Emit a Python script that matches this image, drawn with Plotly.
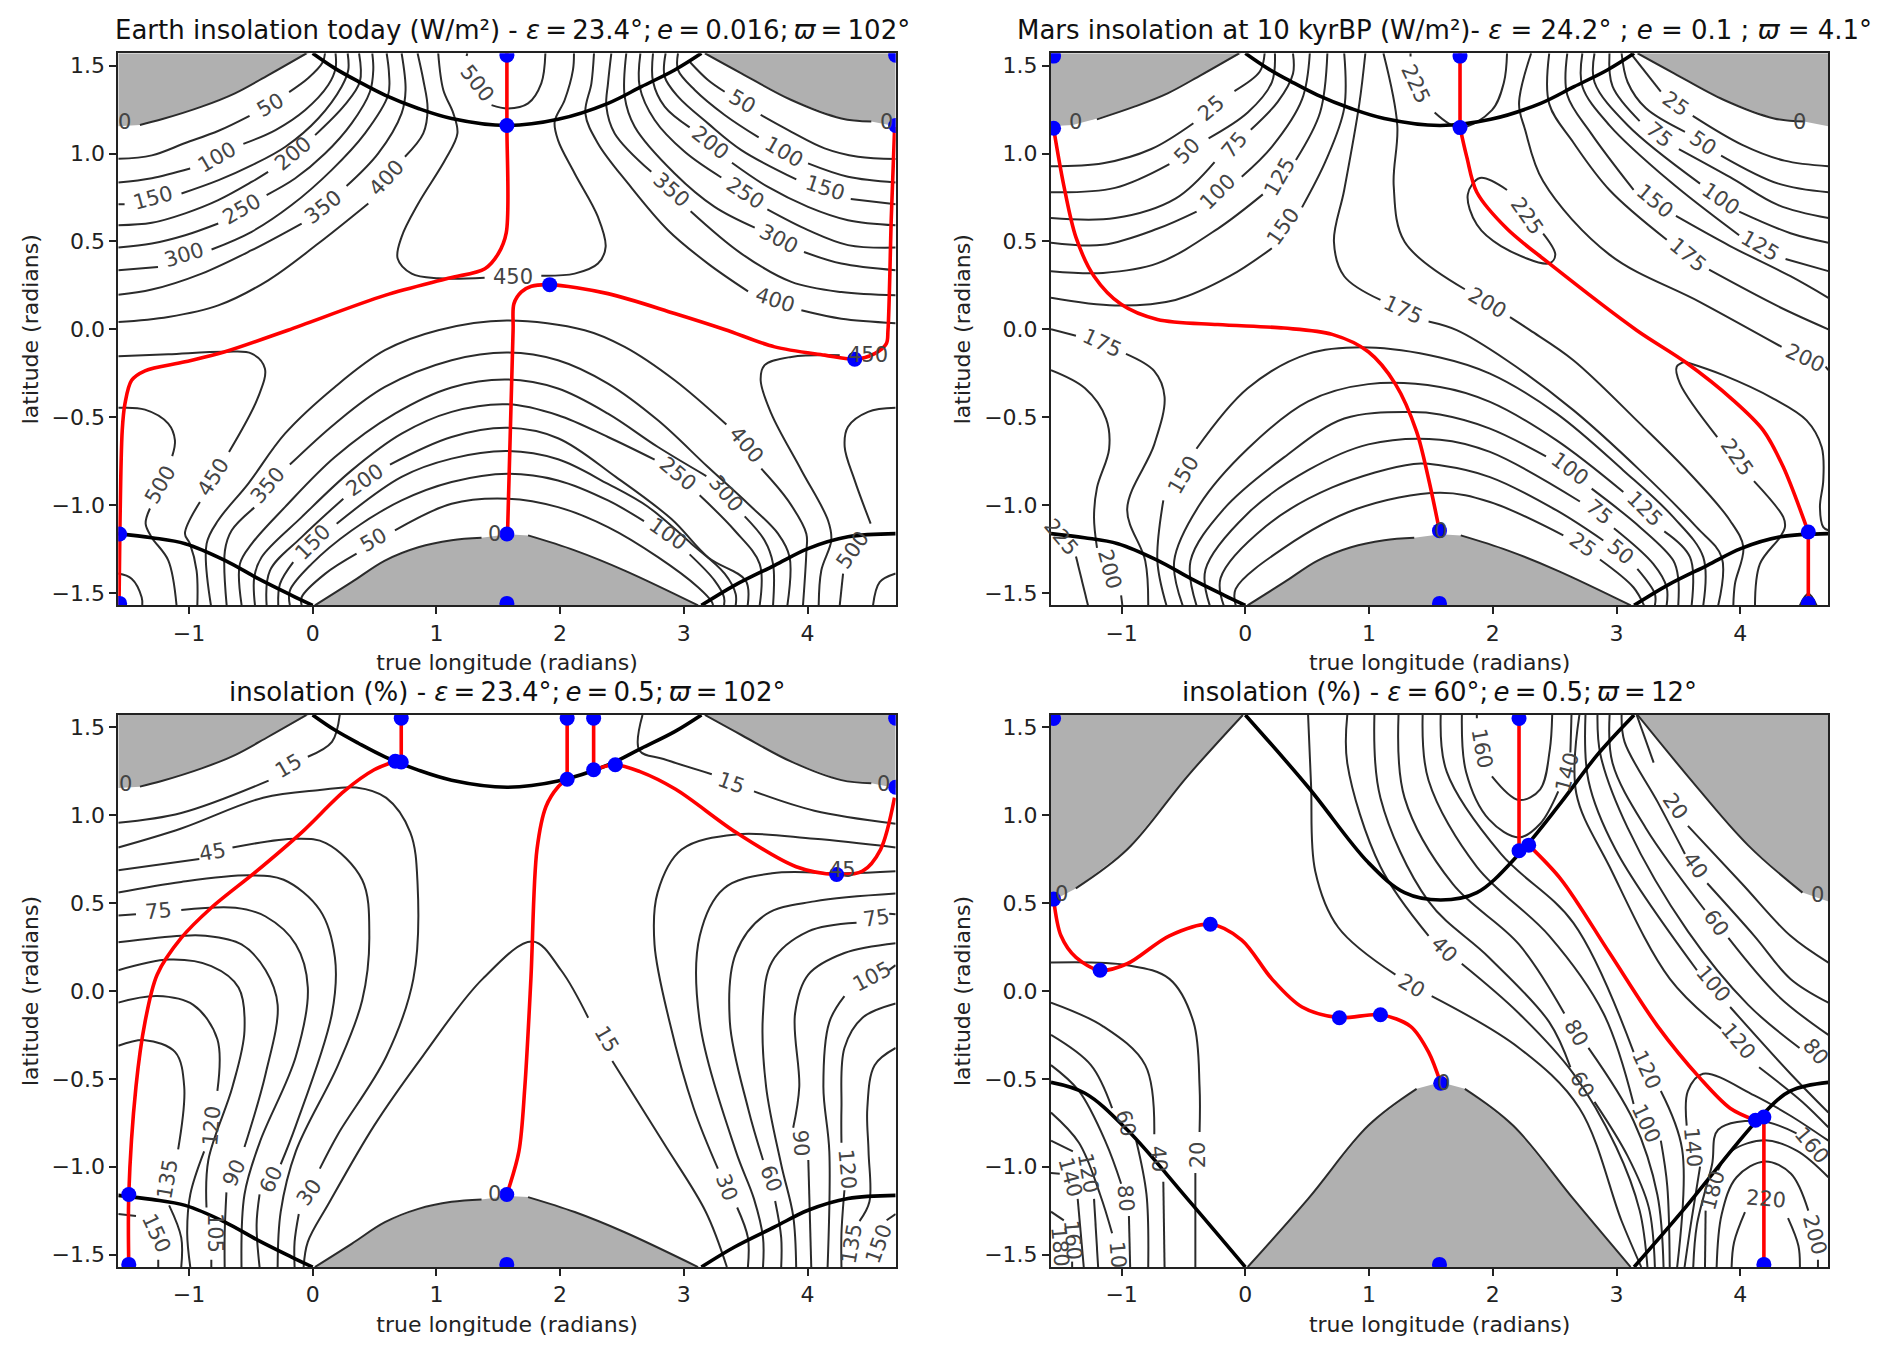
import plotly.graph_objects as go
from plotly.subplots import make_subplots

W, H = 1892, 1355
LEFT = (118.3, 1051.0)
WIDTH = 777.4
TOP = (53.3, 715.0)
HEIGHT = 552.0
XMIN, XMAX = -1.5708, 4.7124
YMIN, YMAX = -1.5708, 1.5708

x_ticks = [-1, 0, 1, 2, 3, 4]
y_ticks = [-1.5, -1.0, -0.5, 0.0, 0.5, 1.0, 1.5]

# terminator and polar night, obliquity about 23 deg (panels 1-3)
term_n = [(0, 1.571), (.18, 1.485), (.37, 1.41), (.584, 1.333), (.854, 1.257), (1.123, 1.2), (1.571, 1.16), (1.983, 1.195), (2.387, 1.286), (2.657, 1.381), (2.926, 1.476), (3.142, 1.571)]
term_sw = [(-1.571, -1.163), (-1.3, -1.186), (-1.03, -1.22), (-.709, -1.315), (-.44, -1.419), (-.17, -1.514), (0, -1.571)]
term_se = [(3.142, -1.571), (3.41, -1.457), (3.734, -1.343), (4.004, -1.248), (4.327, -1.181), (4.712, -1.163)]
gray_nw = [(-1.571, 1.155), (-1.396, 1.163), (-1.22, 1.195), (-.897, 1.267), (-.628, 1.343), (-.358, 1.447), (-.03, 1.571), (-1.571, 1.571)]
gray_ne = [(3.17, 1.571), (3.465, 1.457), (3.869, 1.305), (4.273, 1.2), (4.515, 1.182), (4.712, 1.155), (4.712, 1.571)]
gray_s = [(.018, -1.571), (.315, -1.439), (.584, -1.316), (.854, -1.24), (1.123, -1.2), (1.365, -1.186), (1.579, -1.167), (1.741, -1.173), (2.118, -1.258), (2.522, -1.373), (3.115, -1.571)]
zero_nw = [(-1.396, 1.163), (-1.22, 1.195), (-.897, 1.267), (-.628, 1.343), (-.358, 1.447), (-.05, 1.571)]
zero_ne = [(3.17, 1.571), (3.465, 1.457), (3.869, 1.305), (4.273, 1.2), (4.515, 1.182)]
zero_s = [(.018, -1.571), (.315, -1.439), (.584, -1.316), (.854, -1.24), (1.123, -1.2), (1.365, -1.186), None, (1.741, -1.173), (2.118, -1.258), (2.522, -1.373), (3.115, -1.571)]

# panel 1, Earth today
earth_n50 = [(-1.571, .97), (-1.3, .99), (-1.03, 1.06), (-.76, 1.13), (-.51, 1.215), None, (-.19, 1.35), (-.035, 1.43), (.08, 1.518), (.1, 1.571)]
earth_n100 = [(-1.571, .836), (-1.3, .86), (-.99, .915), None, (-.56, 1.055), (-.3, 1.134), (-.06, 1.248), (.126, 1.39), (.185, 1.485), (.185, 1.571)]
earth_n150 = [(-1.571, .712), (-1.52, .712), None, (-1.06, .773), (-.76, .849), (-.49, .934), (-.22, 1.039), (.045, 1.2), (.234, 1.381), (.288, 1.476), (.283, 1.571)]
earth_n200 = [(-1.571, .592), (-1.3, .606), (-1.03, .66), (-.763, .735), (-.49, .84), (-.36, .896), None, (.02, 1.105), (.26, 1.277), (.382, 1.41), (.375, 1.571)]
earth_n250 = [(-1.571, .465), (-1.3, .488), (-1.03, .535), (-.763, .602), None, (-.372, .764), (-.143, .858), (.1, 1.0), (.315, 1.172), (.463, 1.352), (.49, 1.476), (.482, 1.571)]
earth_n300 = [(-1.571, .336), (-1.25, .355), None, (-.817, .454), (-.493, .555), (-.17, .707), (.153, .906), (.423, 1.115), (.61, 1.333), (.617, 1.457), (.598, 1.571)]
earth_n350 = [(-1.571, .197), (-1.3, .226), (-.897, .317), (-.493, .45), (-.089, .602), None, (.274, .815), (.53, 1.001), (.719, 1.229), (.751, 1.362), (.719, 1.571)]
earth_n400 = [(-1.571, .041), (-1.167, .07), (-.763, .136), (-.359, .279), (.045, .488), (.45, .716), None, (.746, .982), (.894, 1.115), (.929, 1.258), (.894, 1.42), (.848, 1.571)]
earth_n450a = [(1.39, .293), (1.015, .29), (.8, .317), (.687, .403), (.719, .526), (.854, .716), (1.07, .963), (1.17, 1.115), (1.137, 1.229), (1.056, 1.362), (1.015, 1.571)]
earth_n450b = [(1.848, .305), (2.118, .317), (2.306, .374), (2.368, .469), (2.306, .64), (2.118, .887), (1.983, 1.077), (1.956, 1.182), (2.037, 1.305), (2.104, 1.476), (2.112, 1.571)]
earth_n500 = [(1.446, 1.276), (1.579, 1.257), (1.741, 1.286), (1.848, 1.4), (1.881, 1.571), None, (1.244, 1.555), (1.25, 1.571)]
earth_e400 = [(2.274, 1.571), (2.253, 1.4), (2.204, 1.229), (2.306, 1.058), (2.549, .83), (2.872, .564), (3.195, .374), (3.519, .216), None, (3.95, .108), (4.273, .06), (4.712, .035)]
earth_e350 = [(2.414, 1.571), (2.387, 1.4), (2.374, 1.267), (2.441, 1.115), (2.737, .896), None, (3.055, .672), (3.465, .431), (3.869, .27), (4.273, .212), (4.712, .194)]
earth_e300 = [(2.535, 1.571), (2.522, 1.324), (2.603, 1.153), (2.926, .887), (3.249, .697), (3.573, .579), None, (3.971, .44), (4.273, .374), (4.712, .336)]
earth_e250 = [(2.649, 1.571), (2.643, 1.381), (2.764, 1.191), (3.007, 1.01), (3.303, .864), None, (3.675, .682), (4.004, .564), (4.327, .479), (4.712, .465)]
earth_e200 = [(2.751, 1.571), (2.751, 1.41), (2.845, 1.267), (3.047, 1.149), None, (3.389, .948), (3.68, .81), (4.004, .697), (4.327, .621), (4.712, .592)]
earth_e150 = [(2.853, 1.571), (2.845, 1.438), (2.953, 1.324), (3.195, 1.172), (3.465, 1.02), (3.909, .853), None, (4.349, .741), (4.712, .712)]
earth_e100 = [(2.953, 1.571), (2.953, 1.476), (3.088, 1.362), (3.33, 1.22), (3.605, 1.092), None, (4.004, .944), (4.327, .868), (4.712, .836)]
earth_e50 = [(3.047, 1.523), (3.195, 1.419), (3.33, 1.352), None, (3.621, 1.22), (3.869, 1.124), (4.138, 1.03), (4.408, .982), (4.712, .969)]
earth_s50 = [(-.089, -1.571), (-.089, -1.525), (.1, -1.392), (.355, -1.277), None, (.665, -1.145), (1.123, -.993), (1.579, -.964), (1.983, -1.012), (2.387, -1.126), (2.791, -1.297), (3.115, -1.468), (3.228, -1.553), (3.236, -1.571)]
earth_s100 = [(-.184, -1.571), (-.184, -1.487), (-.008, -1.335), (.315, -1.145), (.719, -.974), (1.123, -.869), (1.579, -.822), (1.983, -.86), (2.387, -.974), (2.678, -1.092), None, (3.047, -1.281), (3.249, -1.43), (3.325, -1.525), (3.325, -1.571)]
earth_s150 = [(-.278, -1.571), (-.264, -1.449), (-.157, -1.325), None, (.194, -1.107), (.719, -.84), (1.123, -.736), (1.579, -.693), (1.983, -.74), (2.387, -.88), (2.71, -1.01), (3.061, -1.22), (3.33, -1.39), (3.419, -1.506), (3.419, -1.571)]
earth_s200 = [(-.372, -1.571), (-.345, -1.373), (-.089, -1.183), (.248, -.964), None, (.625, -.77), (1.123, -.613), (1.579, -.561), (1.983, -.62), (2.45, -.84), (2.9, -1.08), (3.2, -1.3), (3.5, -1.43), (3.516, -1.571)]
earth_s250 = [(-.466, -1.571), (-.472, -1.411), (-.413, -1.297), (-.089, -1.069), (.315, -.803), (.719, -.594), (1.123, -.47), (1.579, -.427), (1.983, -.489), (2.387, -.613), (2.764, -.742), None, (3.128, -.945), (3.411, -1.145), (3.613, -1.335), (3.613, -1.571)]
earth_s300 = [(-.574, -1.571), (-.588, -1.335), (-.493, -1.221), (-.224, -1.012), (.18, -.727), (.665, -.48), (1.123, -.331), (1.579, -.286), (1.983, -.337), (2.387, -.48), (2.791, -.67), (3.182, -.835), None, (3.492, -1.065), (3.653, -1.202), (3.721, -1.335), (3.721, -1.571)]
earth_s350 = [(-.695, -1.571), (-.709, -1.259), (-.655, -1.145), (-.472, -1.015), None, (-.184, -.77), (.18, -.537), (.584, -.328), (1.123, -.176), (1.579, -.132), (1.983, -.176), (2.387, -.309), (2.791, -.518), (3.195, -.784), (3.519, -.993), (3.761, -1.163), (3.855, -1.297), (3.837, -1.571)]
earth_s400 = [(-.822, -1.571), (-.857, -1.22), (-.763, -1.087), (-.52, -.878), (-.224, -.594), (.18, -.328), (.584, -.119), (1.015, -.005), (1.57, .05), (2.199, -.005), (2.522, -.1), (2.926, -.29), (3.344, -.542), None, (3.626, -.793), (3.842, -.974), (3.99, -1.163), (3.99, -1.27), (3.963, -1.571)]
earth_sw450 = [(-1.571, -.153), (-1.167, -.142), (-.709, -.128), (-.493, -.138), (-.386, -.223), (-.44, -.385), (-.676, -.698), None, (-.911, -.983), (-1.032, -1.163), (-.992, -1.22), (-.938, -1.373), (-.932, -1.571)]
earth_sw500 = [(-1.571, -.447), (-1.355, -.457), (-1.167, -.537), (-1.113, -.632), (-1.135, -.722), None, (-1.315, -1.02), (-1.35, -1.106), (-1.302, -1.183), (-1.167, -1.315), (-1.1, -1.571)]
earth_sw550 = [(-1.571, -1.39), (-1.463, -1.419), (-1.382, -1.525), (-1.377, -1.571)]
earth_se450 = [(4.26, -.147), (3.869, -.157), (3.653, -.204), (3.621, -.29), (3.707, -.48), (3.95, -.802), (4.165, -1.087), (4.192, -1.2), (4.111, -1.373), (4.09, -1.571)]
earth_se500 = [(4.712, -.447), (4.489, -.47), (4.327, -.555), (4.3, -.669), (4.381, -.86), (4.51, -1.106), None, (4.287, -1.39), (4.26, -1.571)]
earth_se550 = [(4.712, -1.39), (4.583, -1.439), (4.529, -1.571)]
earth_lines = [earth_n50, earth_n100, earth_n150, earth_n200, earth_n250, earth_n300, earth_n350, earth_n400, earth_n450a, earth_n450b, earth_n500,
               earth_e400, earth_e350, earth_e300, earth_e250, earth_e200, earth_e150, earth_e100, earth_e50,
               earth_s50, earth_s100, earth_s150, earth_s200, earth_s250, earth_s300, earth_s350, earth_s400,
               earth_sw450, earth_sw500, earth_sw550, earth_se450, earth_se500, earth_se550, zero_nw, zero_ne, zero_s]
earth_labels = [("50", -.34, 1.277, -30), ("100", -.77, .98, -30), ("150", -1.29, .745, -15), ("200", -.162, 1.0, -40), ("250", -.569, .682, -30),
                ("300", -1.04, .425, -17), ("350", .086, .697, -38), ("400", .598, .859, -47), ("450", 1.62, .3, 0), ("500", 1.325, 1.4, 52), ("0", -1.52, 1.18, 0),
                ("50", 3.478, 1.295, 30), ("100", 3.81, 1.01, 30), ("150", 4.138, .802, 18), ("200", 3.214, 1.058, 38), ("250", 3.492, .773, 33),
                ("300", 3.767, .516, 27), ("350", 2.899, .79, 42), ("400", 3.734, .165, 18), ("0", 4.637, 1.18, 0),
                ("50", .49, -1.197, -30), ("150", .005, -1.212, -45), ("200", .423, -.86, -35), ("350", -.359, -.888, -50), ("450", -.803, -.84, -58),
                ("500", -1.234, -.884, -60), ("0", 1.473, -1.163, 0), ("100", 2.872, -1.164, 35), ("250", 2.953, -.822, 40), ("300", 3.344, -.936, 50),
                ("400", 3.505, -.66, 50), ("450", 4.488, -.147, 0), ("500", 4.367, -1.258, -55)]
earth_red = [
    [(1.57, 1.571), (1.57, 1.16), (1.565, .55), (1.5, .43), (1.392, .345), (1.096, .29), (.584, .193), (-.2, -.005), (-.709, -.128), (-1.032, -.185), (-1.355, -.236), (-1.463, -.29), (-1.517, -.423), (-1.539, -.575), (-1.558, -1.144), (-1.565, -1.571)],
    [(1.575, -1.163), (1.62, -.005), (1.627, .146), (1.687, .213), (1.768, .245), (1.916, .254), (2.387, .203), (2.926, .09), (3.33, -.001), (3.734, -.1), (4.138, -.147), (4.381, -.17), (4.542, -.138), (4.637, -.081), (4.65, -.005), (4.677, .64), (4.704, 1.153)],
]
earth_dots = [(1.57, 1.56), (1.57, 1.16), (1.916, .254), (4.381, -.17), (4.712, 1.16), (4.712, 1.56), (-1.56, -1.165), (-1.56, -1.56), (1.57, -1.165), (1.57, -1.56)]

# panel 2, Mars at 10 kyrBP
mars_n25 = [(-1.571, .928), (-1.15, .945), (-.76, 1.026), (-.42, 1.173), None, (-.088, 1.356), (.117, 1.467), (.156, 1.571)]
mars_n50 = [(-1.571, .78), (-1.053, .805), (-.614, .94), None, (-.297, 1.087), (.019, 1.234), (.214, 1.406), (.239, 1.571)]
mars_n75 = [(-1.571, .633), (-1.053, .633), (-.565, .744), (-.249, .952), None, (.044, 1.136), (.263, 1.296), (.385, 1.455), (.385, 1.571)]
mars_n100 = [(-1.571, .493), (-1.15, .481), (-.712, .572), (-.394, .67), None, (-.029, .868), (.214, 1.038), (.458, 1.308), (.521, 1.571)]
mars_n125 = [(-1.571, .331), (-1.15, .321), (-.712, .375), (-.224, .572), (.141, .768), None, (.409, .964), (.604, 1.234), (.663, 1.571)]
mars_n150 = [(-1.571, .179), (-1.053, .135), (-.565, .167), (-.127, .302), (.214, .461), None, (.458, .694), (.653, .964), (.799, 1.259), (.799, 1.571)]
mars_m175 = [(.97, 1.571), (.921, 1.283), (.799, .793), (.716, .498), (.799, .302), (1.092, .167), None, (1.481, .044), (1.708, -.005), (2.112, -.176), (2.651, -.46), (3.19, -.803), (3.647, -1.126), (3.85, -1.297), (3.822, -1.571)]
mars_m200 = [(1.116, 1.571), (1.228, 1.161), (1.199, .817), (1.287, .498), (1.774, .228), None, (2.139, .069), (2.3, -.005), (2.651, -.176), (3.19, -.537), (3.594, -.822), (3.917, -1.088), (4.025, -1.24), (3.957, -1.449), (3.944, -1.571)]
mars_top225 = [(1.335, 1.553), (1.335, 1.571), None, (1.53, 1.234), (1.735, 1.148), (1.993, 1.247), (2.09, 1.406), (2.115, 1.571)]
mars_loop225 = [(2.407, .545), (2.505, .424), (2.456, .375), (2.066, .474), (1.871, .596), (1.798, .768), (1.896, .861), (2.115, .793)]
mars_se225 = [(3.553, -.185), (3.486, -.214), (3.513, -.309), (3.814, -.613), None, (4.111, -.864), (4.348, -1.069), (4.361, -1.126), (4.321, -1.183), (4.159, -1.335), (4.119, -1.571)]
mars_se225b = [(3.553, -.185), (3.863, -.261), (4.267, -.394), (4.536, -.518), (4.658, -.67), (4.671, -.86), (4.644, -1.011), (4.671, -1.126), (4.712, -1.144)]
mars_e25 = [(3.114, 1.571), (3.358, 1.352), None, (3.616, 1.215), (4.016, 1.05), (4.357, .96), (4.712, .928)]
mars_e50 = [(3.041, 1.571), (3.09, 1.406), (3.236, 1.259), (3.553, 1.124), None, (3.845, .989), (4.308, .829), (4.712, .78)]
mars_e75 = [(2.943, 1.571), (2.968, 1.382), (3.187, 1.185), None, (3.504, 1.026), (3.918, .866), (4.308, .707), (4.712, .633)]
mars_e100 = [(2.822, 1.571), (2.822, 1.406), (3.09, 1.161), (3.675, .829), None, (3.991, .67), (4.406, .547), (4.712, .493)]
mars_e125 = [(2.724, 1.571), (2.724, 1.382), (2.943, 1.161), (3.431, .842), (3.991, .535), None, (4.366, .4), (4.712, .331)]
mars_e150 = [(2.602, 1.571), (2.602, 1.333), (2.797, 1.112), (3.138, .793), None, (3.48, .645), (3.918, .474), (4.406, .302), (4.712, .179)]
mars_e175 = [(2.456, 1.571), (2.456, 1.283), (2.651, 1.063), (2.943, .793), (3.406, .51), None, (3.748, .339), (4.308, .13), (4.712, 0)]
mars_e200 = [(2.31, 1.571), (2.212, 1.283), (2.261, 1.136), (2.407, .842), (2.943, .425), (3.675, .155), (4.334, -.1), None, (4.69, -.213), (4.712, -.233)]
mars_s25 = [(-.078, -1.571), (-.078, -1.477), (.312, -1.244), (.897, -1.023), (1.573, -.93), (1.977, -.983), (2.57, -1.173), None, (2.866, -1.31), (3.136, -1.468), (3.222, -1.571)]
mars_s50 = [(-.175, -1.571), (-.2, -1.416), (.166, -1.121), (.702, -.9), (1.36, -.766), (1.573, -.774), (1.977, -.841), (2.516, -1.031), (2.893, -1.202), None, (3.168, -1.363), (3.31, -1.506), (3.31, -1.571)]
mars_s75 = [(-.288, -1.571), (-.322, -1.367), (.019, -1.048), (.507, -.802), (.994, -.655), (1.573, -.628), (1.977, -.698), (2.704, -.98), None, (2.979, -1.132), (3.297, -1.335), (3.405, -1.468), (3.405, -1.571)]
mars_s100 = [(-.395, -1.571), (-.443, -1.318), (-.175, -1.023), (.312, -.729), (.799, -.508), (1.335, -.471), (1.573, -.485), (1.977, -.565), (2.43, -.723), None, (2.799, -.907), (3.19, -1.126), (3.459, -1.316), (3.499, -1.42), (3.499, -1.571)]
mars_s125 = [(-.507, -1.571), (-.575, -1.318), (-.37, -.999), (.019, -.68), (.507, -.41), (.994, -.312), (1.573, -.328), (1.977, -.413), (2.516, -.632), (3.055, -.926), None, (3.386, -1.15), (3.594, -1.297), (3.607, -1.571)]
mars_s150 = [(-.638, -1.571), (-.711, -1.318), (-.663, -.974), None, (-.395, -.68), (.019, -.336), (.507, -.14), (.994, -.103), (1.573, -.16), (1.977, -.252), (2.516, -.48), (3.055, -.803), (3.459, -1.069), (3.701, -1.297), (3.701, -1.571)]
mars_w175 = [(-1.571, 0), (-1.369, -.037), None, (-.965, -.14), (-.736, -.238), (-.653, -.385), (-.736, -.655), (-.955, -1.023), (-.809, -1.318), (-.785, -1.571)]
mars_w200 = [(-1.571, -.233), (-1.296, -.336), (-1.126, -.508), (-1.101, -.68), (-1.199, -.901), (-1.223, -1.072), (-1.199, -1.244), None, (-1.004, -1.514), (-.994, -1.571)]
mars_w225 = [(-1.369, -1.293), (-1.272, -1.571)]
mars_loop250 = [(4.482, -1.571), (4.55, -1.505), (4.617, -1.571)]
mars_zero = [(-1.2, 1.195), (-.897, 1.267), (-.628, 1.343), (-.358, 1.447), (-.05, 1.571)]
mars_lines = [mars_n25, mars_n50, mars_n75, mars_n100, mars_n125, mars_n150, mars_m175, mars_m200, mars_top225, mars_loop225, mars_se225, mars_se225b,
              mars_e25, mars_e50, mars_e75, mars_e100, mars_e125, mars_e150, mars_e175, mars_e200,
              mars_s25, mars_s50, mars_s75, mars_s100, mars_s125, mars_s150, mars_w175, mars_w200, mars_w225, mars_loop250, zero_ne, zero_s, mars_zero]
mars_labels = [("25", -.273, 1.258, -40), ("50", -.468, 1.013, -45), ("75", -.088, 1.05, -50), ("100", -.224, .78, -45), ("125", .278, .866, -60), ("150", .302, .584, -55),
               ("175", -1.16, -.08, 25), ("175", 1.277, .11, 25), ("200", 1.954, .147, 30), ("225", 1.374, 1.394, 65), ("225", 2.276, .645, 55),
               ("150", -.502, -.827, -60), ("200", -1.101, -1.367, 75), ("225", -1.49, -1.183, 50), ("0", -1.374, 1.18, 0), ("0", 4.479, 1.18, 0), ("0", 1.58, -1.146, 0),
               ("25", 3.478, 1.28, 35), ("50", 3.699, 1.063, 35), ("75", 3.348, 1.107, 40), ("100", 3.845, .744, 35), ("125", 4.162, .474, 30), ("150", 3.309, .731, 40),
               ("175", 3.577, .425, 40), ("200", 4.523, -.166, 25), ("100", 2.624, -.793, 37), ("75", 2.86, -1.04, 40), ("25", 2.726, -1.23, 35), ("50", 3.033, -1.268, 40),
               ("125", 3.23, -1.02, 45), ("225", 3.971, -.727, 55)]
mars_red = [
    [(-1.55, 1.144), (-1.467, .817), (-1.369, .523), (-1.223, .302), (-1.004, .142), (-.711, .056), (-.224, .027), (.312, .007), (.702, -.029), (.994, -.128), (1.213, -.312), (1.384, -.582), (1.481, -.852), (1.569, -1.146)],
    [(1.735, 1.571), (1.735, 1.148)],
    [(1.735, 1.148), (1.79, .98), (1.871, .78), (2.115, .572), (2.456, .375), (3.162, -.005), (3.553, -.185), (3.944, -.404), (4.186, -.575), (4.348, -.784), (4.55, -1.154)],
    [(4.55, -1.154), (4.55, -1.571)],
]
mars_dots = [(-1.55, 1.555), (-1.55, 1.144), (1.735, 1.555), (1.735, 1.148), (1.569, -1.146), (1.569, -1.56), (4.55, -1.154), (4.55, -1.56)]

# panel 3, e = 0.5
pct_n15 = [(-1.571, .957), (-1.062, 1.013), (-.356, 1.197), None, (-.039, 1.333), (.156, 1.418), (.219, 1.571)]
pct_m15 = [(-.073, -1.571), (-.039, -1.428), (.132, -1.207), (.497, -.766), (.887, -.373), (1.374, .069), (1.779, .282), (2.008, .118), (2.227, -.152), None, (2.422, -.398), (2.836, -.864), (3.177, -1.256), (3.348, -1.571)]
pct_e15 = [(2.666, 1.571), (2.641, 1.369), (2.836, 1.32), (3.226, 1.234), None, (3.567, 1.136), (4.055, 1.026), (4.712, .952)]
pct_w30 = [(-1.571, .817), (-1.062, .925), (-.4, 1.1), (.058, 1.144), (.351, 1.158), (.595, 1.099), (.789, .903), (.848, .609), (.814, .069), (.595, -.373), (.205, -.815), (.058, -1.011), None, (-.112, -1.269), (-.146, -1.428), (-.146, -1.571)]
pct_w45 = [(-1.571, .687), (-.916, .751), None, (-.648, .817), (-.136, .866), (.107, .842), (.4, .633), (.458, .314), (.4, -.054), (.205, -.422), (-.136, -.913), (-.258, -1.256), (-.283, -1.571)]
pct_w60 = [(-1.571, .56), (-1.062, .621), (-.502, .658), (-.234, .633), (.058, .461), (.18, .191), (.156, -.128), (-.136, -.766), (-.258, -.986), None, (-.429, -1.158), (-.453, -1.33), (-.429, -1.571)]
pct_w75 = [(-1.571, .43), (-1.428, .437), None, (-1.062, .461), (-.624, .474), (-.38, .424), (-.136, .265), (-.039, .02), (-.136, -.373), (-.429, -.864), (-.551, -1.158), (-.575, -1.571)]
pct_w90 = [(-1.571, .277), (-1.062, .314), (-.867, .314), (-.575, .265), (-.38, .118), (-.283, -.079), (-.38, -.471), (-.551, -.888), None, (-.697, -1.146), (-.711, -1.379), (-.711, -1.571)]
pct_w105 = [(-1.571, .118), (-1.16, .179), (-.819, .142), (-.599, .02), (-.551, -.226), (-.648, -.545), (-.843, -.962), (-.858, -1.232), None, (-.819, -1.53), (-.819, -1.571)]
pct_w120 = [(-1.571, -.066), (-1.257, -.029), (-.965, -.079), (-.77, -.275), (-.77, -.569), None, (-.877, -.913), (-.989, -1.158), (-1.014, -1.379), (-.989, -1.571)]
pct_w135 = [(-1.571, -.312), (-1.355, -.28), (-1.111, -.348), (-1.038, -.545), (-1.087, -.901), None, (-1.16, -1.22), (-1.062, -1.404), (-1.062, -1.571)]
pct_w150 = [(-1.571, -1.269), (-1.428, -1.281), None, (-1.248, -1.53), (-1.248, -1.571)]
pct_e30 = [(4.712, .817), (4.055, .866), (3.421, .891), (2.982, .805), (2.788, .56), (2.763, .265), (2.885, -.177), (3.08, -.667), (3.275, -1.011), None, (3.431, -1.232), (3.518, -1.404), (3.518, -1.571)]
pct_e45 = [(4.712, .682), (4.298, .67), (3.713, .67), (3.324, .584), (3.129, .314), (3.129, -.177), (3.421, -.913), (3.567, -1.183), (3.64, -1.404), (3.64, -1.571)]
pct_e60 = [(4.712, .555), (4.055, .51), (3.665, .437), (3.421, .216), (3.372, -.177), (3.519, -.667), (3.64, -.962), None, (3.738, -1.195), (3.787, -1.404), (3.787, -1.571)]
pct_e75 = [(4.712, .437), (4.66, .44), None, (4.396, .388), (4.006, .339), (3.713, .167), (3.64, -.128), (3.665, -.545), (3.787, -.987), (3.884, -1.281), (3.908, -1.571)]
pct_e90 = [(4.712, .272), (4.298, .216), (4.006, .093), (3.899, -.128), (3.933, -.545), (3.884, -.778), None, (4.006, -.962), (4.03, -1.571)]
pct_e105 = [(4.712, .147), (4.66, .12), None, (4.298, -.029), (4.176, -.177), (4.128, -.545), (4.176, -.913), (4.162, -1.571)]
pct_e120 = [(4.712, -.071), (4.444, -.152), (4.298, -.324), (4.274, -.667), (4.274, -.864), None, (4.298, -1.134), (4.274, -1.379), (4.274, -1.571)]
pct_e135 = [(4.712, -.324), (4.542, -.422), (4.483, -.667), (4.493, -.913), (4.5, -1.2), (4.42, -1.31)]
pct_e150 = [(4.712, -1.269), (4.639, -1.305)]
pct_lines = [pct_n15, pct_m15, pct_e15, pct_w30, pct_w45, pct_w60, pct_w75, pct_w90, pct_w105, pct_w120, pct_w135, pct_w150,
             pct_e30, pct_e45, pct_e60, pct_e75, pct_e90, pct_e105, pct_e120, pct_e135, pct_e150, zero_nw, zero_ne, zero_s]
pct_labels = [("15", -.195, 1.283, -30), ("45", -.809, .793, -10), ("75", -1.243, .454, -5), ("30", -.024, -1.146, -55), ("60", -.331, -1.072, -65), ("90", -.634, -1.036, -65),
              ("120", -.819, -.766, -85), ("135", -1.17, -1.072, -80), ("105", -.794, -1.379, 90), ("150", -1.267, -1.379, 65), ("0", -1.516, 1.178, 0), ("0", 4.615, 1.178, 0), ("0", 1.472, -1.158, 0),
              ("15", 3.387, 1.185, 20), ("15", 2.373, -.275, 60), ("30", 3.348, -1.121, 70), ("60", 3.704, -1.072, 70), ("90", 3.947, -.864, 85), ("120", 4.323, -1.011, 85),
              ("135", 4.357, -1.44, -80), ("150", 4.576, -1.44, -70), ("75", 4.557, .417, -8), ("105", 4.517, .081, -28), ("45", 4.284, .69, 0)]
pct_red = [
    [(-1.486, -1.571), (-1.486, -1.158), (-1.428, -.545), (-1.355, -.177), (-1.257, .093), (-1.062, .302), (-.819, .474), (-.453, .682), (-.088, .903), (.253, 1.136), (.497, 1.259), (.668, 1.308)],
    [(.716, 1.303), (.716, 1.571)],
    [(1.569, -1.158), (1.667, -.913), (1.715, -.545), (1.764, .069), (1.813, .805), (1.886, 1.05), (1.983, 1.161), (2.057, 1.205)],
    [(2.057, 1.205), (2.057, 1.571)],
    [(2.271, 1.259), (2.271, 1.571)],
    [(2.271, 1.259), (2.446, 1.288), (2.641, 1.25), (2.934, 1.148), (3.421, .903), (3.908, .707), (4.235, .663), (4.444, .682), (4.59, .805), (4.703, 1.1)],
]
pct_dots = [(-1.486, -1.158), (-1.486, -1.556), (.668, 1.308), (.716, 1.303), (.716, 1.553), (2.057, 1.205), (2.057, 1.553), (2.271, 1.259), (2.271, 1.553), (2.446, 1.288), (4.235, .663), (4.712, 1.16), (4.712, 1.553), (1.569, -1.158), (1.569, -1.556)]

# panel 4, obliquity 60 deg
tilt_term_n = [(0, 1.571), (.507, 1.161), (.994, .731), (1.287, .56), (1.579, .518), (1.871, .56), (2.212, .78), (2.554, 1.075), (2.846, 1.345), (3.142, 1.571)]
tilt_term_sw = [(-1.571, -.52), (-1.296, -.582), (-.955, -.79), (-.468, -1.183), (0, -1.571)]
tilt_term_se = [(3.142, -1.571), (3.528, -1.256), (4.162, -.717), (4.406, -.569), (4.712, -.52)]
tilt_gray_nw = [(-1.571, .51), (-1.37, .584), (-.955, .805), (-.468, 1.222), (-.02, 1.571), (-1.571, 1.571)]
tilt_gray_ne = [(3.17, 1.571), (3.577, 1.222), (4.064, .829), (4.503, .56), (4.712, .51), (4.712, 1.571)]
tilt_gray_s = [(.019, -1.571), (.507, -1.183), (.994, -.766), (1.384, -.557), (1.579, -.52), (1.774, -.557), (2.164, -.766), (2.651, -1.183), (3.114, -1.571)]
tilt_n20 = [(.507, 1.571), (.531, 1.173), (.565, .682), (.75, .363), (1.213, .093), None, (1.506, -.029), (2.212, -.324), (2.7, -.667), (3.041, -1.309), (3.2, -1.571)]
tilt_n40 = [(.824, 1.571), (.824, 1.296), (1.092, .707), (1.481, .314), None, (1.749, .155), (2.212, -.128), (2.651, -.47), (2.997, -.888), (3.187, -1.25), (3.25, -1.571)]
tilt_n60 = [(1.043, 1.571), (1.092, 1.099), (1.481, .51), (1.969, .191), (2.456, -.177), (2.627, -.434), None, (2.822, -.631), (3.09, -.94), (3.26, -1.23), (3.31, -1.571)]
tilt_n80 = [(1.238, 1.571), (1.287, 1.099), (1.676, .609), (2.212, .265), (2.578, -.128), None, (2.773, -.324), (3.138, -.74), (3.33, -1.16), (3.38, -1.571)]
tilt_n100 = [(1.433, 1.571), (1.481, 1.198), (1.871, .707), (2.456, .314), (2.895, -.128), (3.138, -.643), None, (3.358, -.852), (3.41, -1.11), (3.43, -1.571)]
tilt_n120 = [(1.579, 1.571), (1.628, 1.247), (2.066, .78), (2.651, .388), (3.138, -.348), None, (3.358, -.569), (3.53, -.9), (3.49, -1.571)]
tilt_n140 = [(1.75, 1.571), (1.784, 1.247), (1.969, .977), (2.212, .874), (2.383, .952), (2.529, 1.136), None, (2.627, 1.357), (2.636, 1.571)]
tilt_n160 = [(1.871, 1.553), (1.871, 1.571), None, (1.993, 1.222), (2.212, 1.087), (2.383, 1.148), (2.46, 1.37), (2.48, 1.571)]
tilt_e20 = [(3.163, 1.571), (3.3, 1.3), None, (3.577, .94), (4.016, .609), (4.406, .314), (4.712, .162)]
tilt_e40 = [(3.041, 1.571), (3.065, 1.418), (3.333, 1.075), (3.553, .78), None, (3.733, .613), (4.113, .314), (4.406, .069), (4.712, -.066)]
tilt_e60 = [(2.944, 1.571), (2.968, 1.296), (3.236, .928), (3.713, .461), None, (3.904, .302), (4.308, -.029), (4.712, -.25)]
tilt_e80 = [(2.846, 1.571), (2.87, 1.345), (3.09, .928), (3.577, .339), (4.064, -.079), (4.479, -.324), None, (4.712, -.422)]
tilt_e100 = [(2.749, 1.571), (2.773, 1.198), (2.992, .805), (3.65, .118), None, (3.918, -.091), (4.406, -.471), (4.712, -.692)]
tilt_e120 = [(2.7, 1.571), (2.675, 1.124), (2.944, .707), (3.431, .069), (3.845, -.214), None, (4.152, -.434), (4.5, -.63), (4.712, -.776)]
tilt_e140 = [(3.55, -1.571), (3.6, -1.33), (3.675, -1.0), None, (3.567, -.766), (3.577, -.569), (3.699, -.471), (4.113, -.594), (4.406, -.71), (4.712, -.852)]
tilt_e160 = [(3.62, -1.571), (3.65, -1.33), (3.772, -.987), (3.821, -.79), (4.162, -.74), (4.455, -.81), None, (4.712, -.97)]
tilt_e180 = [(3.715, -1.571), (3.72, -1.25), None, (3.82, -1.02), (3.93, -.91), (4.2, -.85), (4.46, -.91), (4.712, -1.06)]
tilt_e200 = [(3.809, -1.571), (3.85, -1.27), (3.97, -1.06), (4.2, -.97), (4.41, -1.04), (4.55, -1.25), None, (4.628, -1.53), (4.628, -1.571)]
tilt_e220 = [(3.93, -1.571), (3.95, -1.43), (4.038, -1.259), None, (4.386, -1.293), (4.47, -1.45), (4.482, -1.571)]
tilt_w20 = [(-1.571, .162), (-.955, .147), (-.614, .069), (-.419, -.177), (-.37, -.545), (-.37, -.802), None, (-.404, -1.036), (-.404, -1.571)]
tilt_w40 = [(-1.571, -.066), (-1.15, -.201), (-.809, -.422), (-.736, -.815), None, (-.663, -1.085), (-.653, -1.571)]
tilt_w60 = [(-1.571, -.25), (-1.248, -.422), (-1.077, -.667), None, (-.882, -.852), (-.799, -1.158), (-.785, -1.571)]
tilt_w80 = [(-1.571, -.422), (-1.345, -.569), (-1.126, -.864), (-1.004, -1.097), None, (-.941, -1.281), (-.931, -1.571)]
tilt_w100 = [(-1.571, -.692), (-1.345, -.864), (-1.174, -1.158), (-1.077, -1.379)]
tilt_w120 = [(-1.571, -.852), (-1.394, -.913), None, (-1.223, -1.183), (-1.19, -1.571)]
tilt_w140 = [(-1.571, -1.036), (-1.5, -1.04), None, (-1.355, -1.183), (-1.306, -1.571)]
tilt_w160 = [(-1.571, -1.256), (-1.467, -1.305), None, (-1.4, -1.54), (-1.4, -1.571)]
tilt_edges = [(-1.37, .584), (-.955, .805), (-.468, 1.222), (-.02, 1.571), None, (3.17, 1.571), (3.577, 1.222), (4.064, .829), (4.503, .56), None,
              (.019, -1.571), (.507, -1.183), (.994, -.766), (1.384, -.557), None, (1.774, -.557), (2.164, -.766), (2.651, -1.183), (3.114, -1.571)]
tilt_lines = [tilt_n20, tilt_n40, tilt_n60, tilt_n80, tilt_n100, tilt_n120, tilt_n140, tilt_n160, tilt_e20, tilt_e40, tilt_e60, tilt_e80, tilt_e100, tilt_e120,
              tilt_e140, tilt_e160, tilt_e180, tilt_e200, tilt_e220, tilt_w20, tilt_w40, tilt_w60, tilt_w80, tilt_w100, tilt_w120, tilt_w140, tilt_w160, tilt_edges]
tilt_labels = [("160", 1.91, 1.382, 80), ("140", 2.602, 1.247, -75), ("20", 3.48, 1.05, 55), ("40", 3.64, .714, 55), ("60", 3.806, .388, 55), ("80", 4.61, -.348, 50),
               ("100", 3.782, .039, 50), ("120", 3.981, -.287, 50), ("40", 1.613, .236, 45), ("20", 1.345, .027, 30), ("80", 2.675, -.238, 60), ("60", 2.724, -.533, 60),
               ("120", 3.246, -.447, 65), ("100", 3.236, -.753, 65), ("140", 3.616, -.888, 85), ("160", 4.576, -.876, 50), ("180", 3.782, -1.134, -75), ("220", 4.21, -1.183, 5),
               ("200", 4.6, -1.391, 75), ("60", -.97, -.753, 75), ("40", -.702, -.957, 85), ("20", -.38, -.933, -90), ("80", -.965, -1.183, 85), ("10", -1.028, -1.5, 85),
               ("120", -1.272, -1.036, 80), ("140", -1.418, -1.06, 75), ("160", -1.394, -1.416, 85), ("180", -1.501, -1.453, 85), ("0", -1.49, .552, 0), ("0", 4.625, .547, 0), ("0", 1.6, -.525, 0)]
tilt_red = [
    [(-1.55, .523), (-1.49, .314), (-1.369, .191), (-1.174, .118), (-.955, .155), (-.614, .314), (-.283, .38), (-.029, .29), (.214, .069), (.458, -.091), (.76, -.152), (1.092, -.135), (1.335, -.201), (1.481, -.348), (1.579, -.525)],
    [(2.212, 1.571), (2.212, .798)],
    [(2.29, .83), (2.554, .633), (2.944, .216), (3.333, -.201), (3.675, -.496), (3.918, -.667), (4.123, -.736)],
    [(4.191, -.717), (4.191, -1.571)],
]
tilt_dots = [(-1.55, 1.551), (-1.55, .523), (-1.174, .118), (-.283, .38), (.76, -.152), (1.092, -.135), (1.579, -.525), (1.569, -1.556), (2.212, 1.551), (2.212, .798), (2.29, .83), (4.123, -.736), (4.191, -.717), (4.191, -1.556)]

titles = ["Earth insolation today (W/m²) - <i>ε</i>\u2009=\u200923.4°;\u2009<i>e</i>\u2009=\u20090.016;\u2009<i>ϖ</i>\u2009=\u2009102°",
          "Mars insolation at 10 kyrBP (W/m²)- <i>ε</i> = 24.2° ; <i>e</i> = 0.1 ; <i>ϖ</i> = 4.1°",
          "insolation (%) - <i>ε</i>\u2009=\u200923.4°;\u2009<i>e</i>\u2009=\u20090.5;\u2009<i>ϖ</i>\u2009=\u2009102°",
          "insolation (%) - <i>ε</i>\u2009=\u200960°;\u2009<i>e</i>\u2009=\u20090.5;\u2009<i>ϖ</i>\u2009=\u200912°"]
title_shift = [5, 5, 0, 0]


def split(points):
    xs = [p[0] if p else None for p in points]
    ys = [p[1] if p else None for p in points]
    return xs, ys


def join(lines):
    out = []
    for line in lines:
        out += list(line) + [None]
    return out


fig = make_subplots(rows=2, cols=2)


def draw(row, col, grays, lines, terms, reds, dots, labels):
    for g in grays:
        xs, ys = split(g)
        fig.add_trace(go.Scatter(x=xs, y=ys, mode="lines", fill="toself", fillcolor="#b0b0b0",
                                 line=dict(width=0), hoverinfo="skip"), row=row, col=col)
    xs, ys = split(join(lines))
    fig.add_trace(go.Scatter(x=xs, y=ys, mode="lines", line=dict(color="#2b2b2b", width=2, shape="spline", smoothing=1)), row=row, col=col)
    xs, ys = split(join(terms))
    fig.add_trace(go.Scatter(x=xs, y=ys, mode="lines", line=dict(color="black", width=3.6, shape="spline", smoothing=1)), row=row, col=col)
    xs, ys = split(join(reds))
    fig.add_trace(go.Scatter(x=xs, y=ys, mode="lines", line=dict(color="red", width=3.6, shape="spline", smoothing=0.9)), row=row, col=col)
    xs, ys = split(dots)
    fig.add_trace(go.Scatter(x=xs, y=ys, mode="markers", marker=dict(color="blue", size=15)), row=row, col=col)
    n = (row - 1) * 2 + col
    suffix = "" if n == 1 else str(n)
    for text, x, y, angle in labels:
        fig.add_annotation(x=x, y=y, xref="x" + suffix, yref="y" + suffix, text=text, textangle=angle, showarrow=False,
                           font=dict(family="DejaVu Sans", size=21, color="#444444"))


north_south = [term_n, term_sw, term_se]
draw(1, 1, [gray_nw, gray_ne, gray_s], earth_lines, north_south, earth_red, earth_dots, earth_labels)
draw(1, 2, [gray_nw, gray_ne, gray_s], mars_lines, north_south, mars_red, mars_dots, mars_labels)
draw(2, 1, [gray_nw, gray_ne, gray_s], pct_lines, north_south, pct_red, pct_dots, pct_labels)
draw(2, 2, [tilt_gray_nw, tilt_gray_ne, tilt_gray_s], tilt_lines, [tilt_term_n, tilt_term_sw, tilt_term_se], tilt_red, tilt_dots, tilt_labels)

for i, title in enumerate(titles):
    r, c = i // 2, i % 2
    fig.update_xaxes(domain=[LEFT[c] / W, (LEFT[c] + WIDTH) / W], range=[XMIN, XMAX], row=r + 1, col=c + 1,
                     tickvals=x_ticks, ticks="outside", ticklen=7, tickwidth=1.5, tickcolor="#222",
                     showgrid=False, zeroline=False, showline=True, mirror=True, linecolor="#222", linewidth=2,
                     title=dict(text="true longitude (radians)", standoff=10, font=dict(size=22)))
    fig.update_yaxes(domain=[1 - (TOP[r] + HEIGHT) / H, 1 - TOP[r] / H], range=[YMIN, YMAX], row=r + 1, col=c + 1,
                     tickvals=y_ticks, tickformat=".1f", ticks="outside", ticklen=7, tickwidth=1.5, tickcolor="#222",
                     showgrid=False, zeroline=False, showline=True, mirror=True, linecolor="#222", linewidth=2,
                     title=dict(text="latitude (radians)", standoff=7, font=dict(size=22)))
    fig.add_annotation(x=(LEFT[c] + WIDTH / 2 + title_shift[i]) / W, y=1 - (TOP[r] - 6) / H, xref="paper", yref="paper", text=title,
                       showarrow=False, xanchor="center", yanchor="bottom", font=dict(size=26, color="#111"))

fig.update_layout(width=W, height=H, autosize=False, margin=dict(l=0, r=0, t=0, b=0), showlegend=False,
                  paper_bgcolor="white", plot_bgcolor="white",
                  font=dict(family="DejaVu Sans", size=22, color="#222"))

fig.write_html("out.html", config={"displayModeBar": False}, post_script="document.body.style.margin='0';")
